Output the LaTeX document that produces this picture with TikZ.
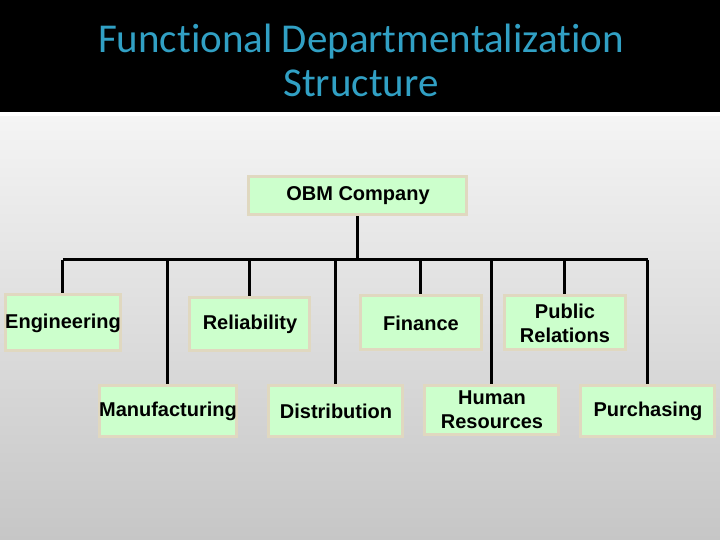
\documentclass[tikz,border=0pt]{standalone}
\usepackage{fontspec}
\setmainfont{Liberation Sans}
\newfontfamily\titlefont[Ligatures=NoCommon]{Carlito}
\usepackage{tikz}
\usetikzlibrary{positioning}
\definecolor{titleblue}{RGB}{49,160,196}
\definecolor{boxgreen}{RGB}{204,255,204}
\definecolor{boxedge}{RGB}{224,216,192}
\definecolor{bgtop}{RGB}{244,244,244}
\definecolor{bgbottom}{RGB}{198,198,198}
\tikzset{
  deptbox/.style={draw=boxedge,fill=boxgreen,line width=1.5pt,inner sep=0pt,
    align=center,minimum height=27pt,font=\fontsize{10}{12}\selectfont\bfseries},
  lowbox/.style={deptbox,minimum height=25.5pt,minimum width=67pt},
  orgline/.style={line width=1.5pt,black}
}
\begin{document}
\begin{tikzpicture}[x=0.5pt,y=-0.5pt]
  \useasboundingbox (0,0) rectangle (720,540);
  % slide background
  \fill[black] (0,0) rectangle (720,112);
  \fill[white] (0,112) rectangle (720,117);
  \shade[top color=bgtop,bottom color=bgbottom] (0,117) rectangle (720,540);
  \node[titleblue,align=center,font=\titlefont\fontsize{20.5}{22}\selectfont]
    (title) at (361,60) {Functional Departmentalization\\Structure};

  % top of the chart
  \node[deptbox,minimum width=109pt,minimum height=19pt] (obm) at (358,196) {OBM Company};

  % first row
  \node[deptbox,minimum width=57.5pt,minimum height=28pt] (eng) at (63,323) {Engineering};
  \node[deptbox,minimum width=60pt,minimum height=26.5pt] (rel) at (250,324) {Reliability};
  \node[deptbox,minimum width=60.5pt] (fin) at (421,323) {Finance};
  \node[deptbox,minimum width=60.5pt] (pr) at (565,323) {Public\\Relations};

  % second row
  \node[lowbox] (manu) at (168,411) {Manufacturing};
  \node[lowbox] (dist) at (336,411) {Distribution};
  \node[lowbox,minimum height=24.5pt] (hr) at (492,410) {Human\\Resources};
  \node[lowbox] (purch) at (648,411) {Purchasing};

  % connectors
  \coordinate (bus) at (358,260);
  \draw[orgline] (obm.south) -- (obm.south |- bus);
  \draw[orgline] (eng.north |- bus) -- (purch.north |- bus);
  \draw[orgline] (eng.north |- bus) -- (eng.north);
  \draw[orgline] (manu.north |- bus) -- (manu.north);
  \draw[orgline] (rel.north |- bus) -- (rel.north);
  \draw[orgline] (dist.north |- bus) -- (dist.north);
  \draw[orgline] (fin.north |- bus) -- (fin.north);
  \draw[orgline] (hr.north |- bus) -- (hr.north);
  \draw[orgline] (pr.north |- bus) -- (pr.north);
  \draw[orgline] (purch.north |- bus) -- (purch.north);
\end{tikzpicture}
\end{document}
